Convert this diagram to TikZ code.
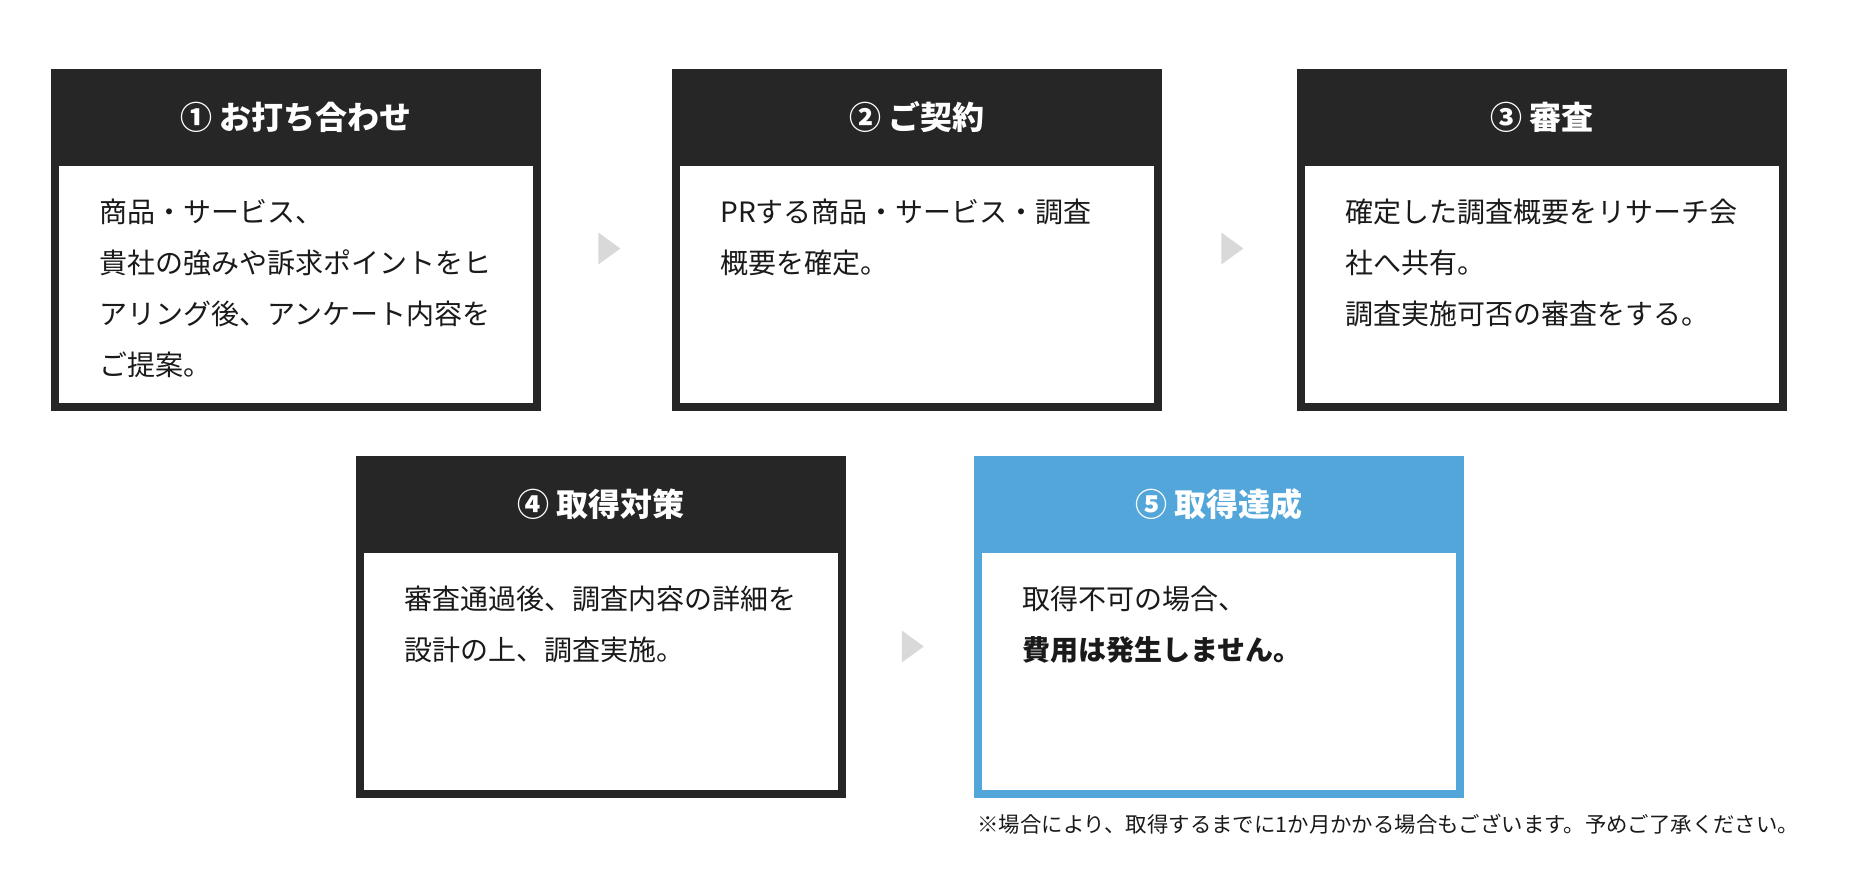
\documentclass[tikz,border=0pt]{standalone}
\usepackage{fontspec}
\setmainfont{Noto Sans CJK JP}
\usetikzlibrary{positioning, shapes.geometric, calc}
\definecolor{cdark}{HTML}{262626}
\definecolor{cblue}{HTML}{53A6DA}
\definecolor{cgrey}{HTML}{D9D9D9}
\definecolor{ctext}{HTML}{1A1A1A}
\tikzset{
  every picture/.style={x=0.5pt, y=-0.5pt},
  head/.style={fill=#1, minimum width=245pt, minimum height=48.5pt, inner sep=0pt, outer sep=0pt,
    text=white, font=\fontsize{16}{16}\selectfont\bfseries},
  head/.default=cdark,
  body/.style={draw=#1, fill=white, line width=4pt, minimum width=241pt, minimum height=122.5pt,
    inner sep=0pt, outer sep=0pt},
  body/.default=cdark,
  txt/.style={align=left, inner sep=0pt, text=ctext, font=\fontsize{14}{25.5}\selectfont},
  arrow/.style={isosceles triangle, isosceles triangle apex angle=72, fill=cgrey, draw=none,
    minimum height=11pt, inner sep=0pt},
  note/.style={anchor=west, inner sep=0pt, text=ctext, font=\fontsize{10.7}{12}\selectfont},
}

\begin{document}
\begin{tikzpicture}
  \useasboundingbox (0,0) rectangle (1864,876);
  % top row
  \node[head] (h1) at (296,117.5) {① お打ち合わせ};
  \node[body, below=-2pt of h1] (b1) {};
  \node[txt, below right=18.5pt and 22pt of b1.north west] (t1)
    {商品・サービス、\\貴社の強みや訴求ポイントをヒ\\アリング後、アンケート内容を\\ご提案。};
  \node[head] (h2) at (917,117.5) {② ご契約};
  \node[body, below=-2pt of h2] (b2) {};
  \node[txt, below right=18.5pt and 22pt of b2.north west] (t2)
    {PRする商品・サービス・調査\\概要を確定。};
  \node[head] (h3) at (1542,117.5) {③ 審査};
  \node[body, below=-2pt of h3] (b3) {};
  \node[txt, below right=18.5pt and 22pt of b3.north west] (t3)
    {確定した調査概要をリサーチ会\\社へ共有。\\調査実施可否の審査をする。};
  % bottom row
  \node[head] (h4) at (601,504.5) {④ 取得対策};
  \node[body, below=-2pt of h4] (b4) {};
  \node[txt, below right=18.5pt and 22pt of b4.north west] (t4)
    {審査通過後、調査内容の詳細を\\設計の上、調査実施。};
  \node[head=cblue] (h5) at (1219,504.5) {⑤ 取得達成};
  \node[body=cblue, below=-2pt of h5] (b5) {};
  \node[txt, below right=18.5pt and 22pt of b5.north west] (t5)
    {取得不可の場合、\\\textbf{費用は発生しません。}};
  \node[note] (n5) at (977,824)
    {※場合により、取得するまでに1か月かかる場合もございます。予めご了承ください。};
  % step arrows
  \node[arrow] (a12) at ($(b1.east)!0.5!(b2.west) + (0,-36)$) {};
  \node[arrow] (a23) at ($(b2.east)!0.5!(b3.west) + (0,-36)$) {};
  \node[arrow] (a45) at ($(b4.east)!0.5!(b5.west) + (0,-25)$) {};
\end{tikzpicture}
\end{document}
